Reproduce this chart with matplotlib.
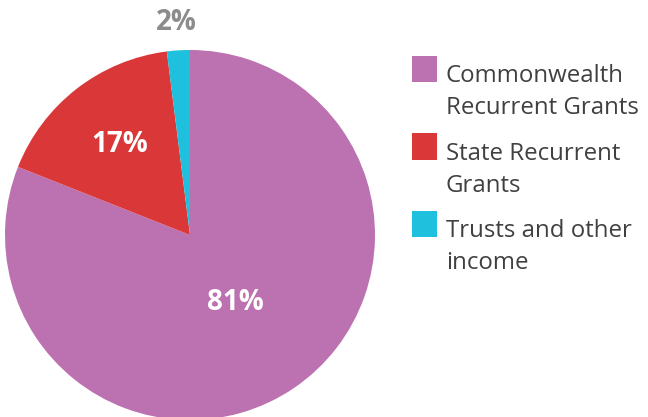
import matplotlib.pyplot as plt
from matplotlib.patches import Rectangle
import numpy as np

# data
labels = ["Commonwealth\nRecurrent Grants", "State Recurrent\nGrants", "Trusts and other\nincome"]
values = [81, 17, 2]
colors = ["#BC71B0", "#DA3838", "#1EC0DE"]
pct_text = ["81%", "17%", "2%"]
pct_radius = [0.44, 0.62, 1.15]
pct_color = ["white", "white", "#8C8C8C"]

plt.rcParams["font.family"] = ["Open Sans", "DejaVu Sans"]

W, H = 648, 417
fig = plt.figure(figsize=(W / 100, H / 100), dpi=100)
# pie: centre (190, 235) px, radius 185 px
cx, cy, r = 190, 235, 185
ax = fig.add_axes([(cx - r) / W, (H - cy - r) / H, 2 * r / W, 2 * r / H])
wedges, _ = ax.pie(values, colors=colors, startangle=90, counterclock=False,
                   wedgeprops=dict(linewidth=0))
ax.set_xlim(-1, 1)
ax.set_ylim(-1, 1)
ax.set_aspect("equal")
ax.axis("off")

for w, t, rr, c in zip(wedges, pct_text, pct_radius, pct_color):
    ang = np.deg2rad((w.theta1 + w.theta2) / 2)
    ax.text(rr * np.cos(ang), rr * np.sin(ang), t, ha="center", va="center",
            fontsize=20, fontweight="bold", color=c, clip_on=False)

# legend
for i, (lab, col) in enumerate(zip(labels, colors)):
    top = 56 + i * 77.5
    fig.add_artist(Rectangle((412 / W, 1 - (top + 26) / H), 25 / W, 26 / H,
                             transform=fig.transFigure, color=col, lw=0))
    for j, line in enumerate(lab.split("\n")):
        fig.text(446 / W, 1 - (top + 26 + j * 32) / H, line, ha="left", va="baseline",
                 fontsize=17.3, color="#404040")

fig.savefig("out.png", dpi=100)
